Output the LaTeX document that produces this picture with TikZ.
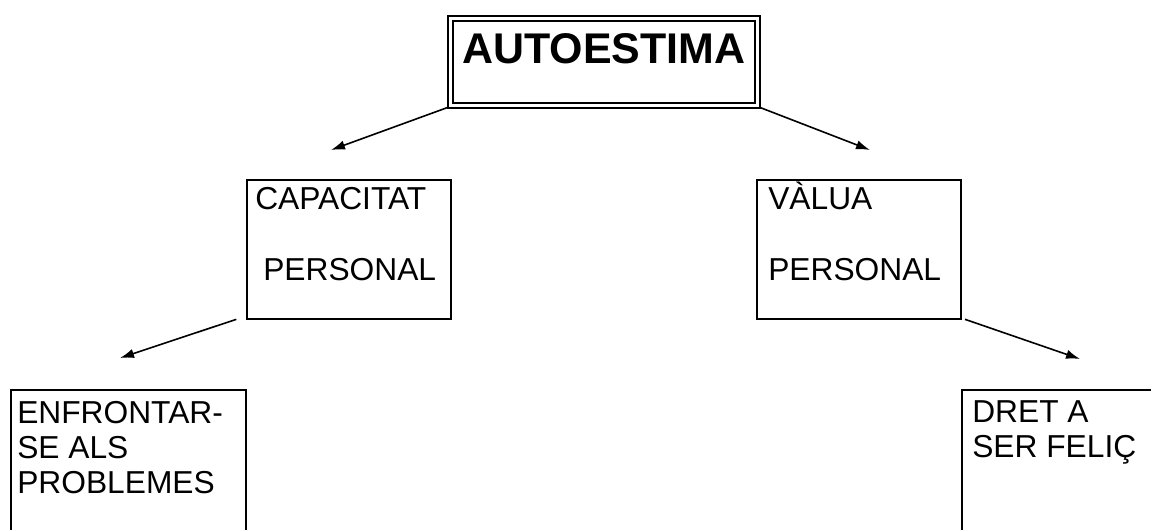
\documentclass[tikz,border=0pt]{standalone}
\usepackage{fontspec}
\setmainfont{Liberation Sans}
\usetikzlibrary{arrows.meta}
\begin{document}
\begin{tikzpicture}[x=0.75pt,y=-0.75pt,
  box/.style={draw, line width=1.5pt, rectangle, inner sep=0pt, outer sep=0pt, anchor=north west},
  lbl/.style={anchor=base west, inner sep=0pt, font=\fontsize{23.8}{28}\selectfont},
  link/.style={-{Latex[length=10.5pt,width=7pt]}, line width=1.2pt}]
\useasboundingbox (0,0) rectangle (1151,530);
\clip (0,0) rectangle (1151,530);

% title box with a double frame
\node[box, line width=1.5pt, double, double distance=2.2pt,
      minimum width=230pt, minimum height=65pt] (top) at (450.5,18.5) {};
\node[anchor=base west, inner sep=0pt, font=\fontsize{32.2}{36}\selectfont\bfseries] (toptxt) at (462,64) {AUTOESTIMA};

% second level
\node[box, minimum width=153pt, minimum height=104pt] (cap) at (247,180) {};
\node[lbl] (cap1) at (255,210) {CAPACITAT};
\node[lbl] (cap2) at (263,281) {PERSONAL};

\node[box, minimum width=153pt, minimum height=104pt] (val) at (757,180) {};
\node[lbl] (val1) at (768,210) {VÀLUA};
\node[lbl] (val2) at (768,281) {PERSONAL};

% third level, running past the lower edge
\node[box, minimum width=176pt, minimum height=150pt] (enf) at (11,390) {};
\node[lbl] (enf1) at (17,423) {ENFRONTAR-};
\node[lbl] (enf2) at (17,458) {SE ALS};
\node[lbl] (enf3) at (17,493) {PROBLEMES};

\node[box, minimum width=200pt, minimum height=150pt] (dret) at (962,390) {};
\node[lbl] (dret1) at (972,422) {DRET A};
\node[lbl] (dret2) at (972,457) {SER FELIÇ};

% free arrow ends
\coordinate (a1) at (331,150);
\coordinate (a2) at (870,150);
\coordinate (a3) at (120,358);
\coordinate (a4) at (1080,359);

\draw[link] ([xshift=-1.5pt,yshift=-1.5pt]top.south west) -- (a1);
\draw[link] ([xshift=1.5pt,yshift=-1.5pt]top.south east) -- (a2);
\draw[link] ([xshift=-8pt,yshift=-0.5pt]cap.south west) -- (a3);
\draw[link] ([xshift=3pt,yshift=-0.5pt]val.south east) -- (a4);
\end{tikzpicture}
\end{document}
